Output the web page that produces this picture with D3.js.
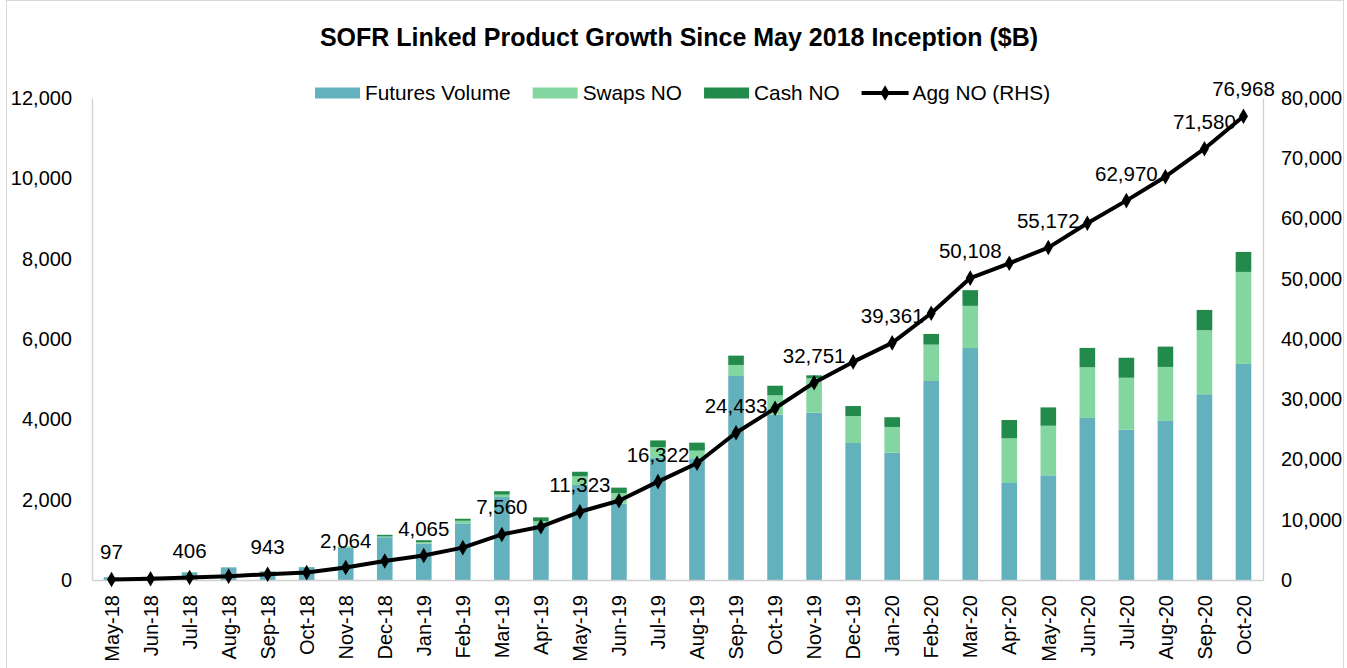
<!DOCTYPE html>
<html>
<head>
<meta charset="utf-8">
<script src="https://cdn.jsdelivr.net/npm/d3@7"></script>
<style>
  body { margin: 0; background: #fff; }
  svg text { font-family: Arial, "Liberation Sans", sans-serif; fill: #000; }
</style>
</head>
<body>
<div id="chart"></div>
<script>
// Chart data
const months = ["May-18","Jun-18","Jul-18","Aug-18","Sep-18","Oct-18","Nov-18","Dec-18","Jan-19","Feb-19",
  "Mar-19","Apr-19","May-19","Jun-19","Jul-19","Aug-19","Sep-19","Oct-19","Nov-19","Dec-19",
  "Jan-20","Feb-20","Mar-20","Apr-20","May-20","Jun-20","Jul-20","Aug-20","Sep-20","Oct-20"];
const futuresVolume = [70,80,190,315,215,320,800,1065,905,1410,2065,1375,2365,1900,3050,3030,5080,4115,4165,3410,
  3170,4955,5775,2415,2605,4035,3740,3960,4625,5380];
const swapsNO = [0,0,10,5,10,5,20,20,35,65,60,85,215,265,260,190,274,483,856,672,640,905,1050,1113,1235,1262,1295,1345,1593,2290];
const cashNO = [0,0,0,0,0,0,10,40,50,50,85,100,115,135,165,200,232,239,75,249,242,266,391,455,457,481,498,506,506,498];
const aggNO = [97,200,406,640,943,1230,2064,3150,4065,5370,7560,8850,11323,13150,16322,19370,24433,28500,32751,36200,
  39361,44270,50108,52570,55172,59210,62970,66940,71580,76968];
const leftTicks = [0,2000,4000,6000,8000,10000,12000];
const rightTicks = [0,10000,20000,30000,40000,50000,60000,70000,80000];

const seriesNames = ["Futures Volume","Swaps NO","Cash NO"];
const colors = ["#63B1BD","#84D6A0","#228B4B"];

const W = 1347, H = 668;
const margin = { top: 98, right: 84, bottom: 88, left: 92 };
const width = W - margin.left - margin.right;
const height = H - margin.top - margin.bottom;

const svg = d3.select("#chart").append("svg")
  .attr("width", W).attr("height", H);

// outer border
svg.append("rect")
  .attr("x", 6.5).attr("y", 0.5)
  .attr("width", 1337).attr("height", 700)
  .attr("fill", "none").attr("stroke", "#D9D9D9");

svg.append("text")
  .attr("x", 679).attr("y", 46)
  .attr("text-anchor", "middle")
  .style("font-size", "25px").style("font-weight", "bold")
  .text("SOFR Linked Product Growth Since May 2018 Inception ($B)");

const g = svg.append("g")
  .attr("transform", "translate(" + margin.left + "," + margin.top + ")");

const x = d3.scaleBand().domain(months).range([0, width]).paddingInner(0.6).paddingOuter(0.3);
const y = d3.scaleLinear().domain([0, 12000]).range([height, 0]);
const y2 = d3.scaleLinear().domain([0, 80000]).range([height, 0]);

// stacked bars
const table = months.map((m, i) => ({ month: m, "Futures Volume": futuresVolume[i], "Swaps NO": swapsNO[i], "Cash NO": cashNO[i] }));
const stacked = d3.stack().keys(seriesNames)(table);

g.selectAll("g.layer")
  .data(stacked)
  .enter().append("g")
  .attr("class", "layer")
  .attr("fill", (d, i) => colors[i])
  .selectAll("rect")
  .data(d => d)
  .enter().append("rect")
  .attr("x", d => x(d.data.month))
  .attr("y", d => y(d[1]))
  .attr("width", x.bandwidth())
  .attr("height", d => y(d[0]) - y(d[1]));

// axes
const axisColor = "#D0D0D0";
const yAxis = g.append("g").call(d3.axisLeft(y).tickValues(leftTicks).tickSize(0).tickPadding(20).tickFormat(d3.format(",")));
const y2Axis = g.append("g").attr("transform", "translate(" + width + ",0)")
  .call(d3.axisRight(y2).tickValues(rightTicks).tickSize(0).tickPadding(18).tickFormat(d3.format(",")));
const xAxis = g.append("g").attr("transform", "translate(0," + height + ")")
  .call(d3.axisBottom(x).tickSize(0));

[yAxis, y2Axis, xAxis].forEach(a => {
  a.select(".domain").attr("stroke", axisColor).attr("stroke-width", 1.3);
  a.selectAll("text").style("font-size", "20px").style("font-family", "Arial, 'Liberation Sans', sans-serif").attr("fill", "#000");
});

xAxis.selectAll("text")
  .attr("transform", "rotate(-90)")
  .attr("x", -15).attr("y", 0).attr("dy", "0.36em")
  .style("text-anchor", "end");

// Agg NO line
const line = d3.line()
  .x((d, i) => x(months[i]) + x.bandwidth() / 2)
  .y(d => y2(d));

g.append("path")
  .datum(aggNO)
  .attr("fill", "none")
  .attr("stroke", "#000")
  .attr("stroke-width", 4)
  .attr("stroke-linejoin", "round")
  .attr("d", line);

const diamond = d3.symbol().type(d3.symbolDiamond).size(70);
g.selectAll("path.marker")
  .data(aggNO)
  .enter().append("path")
  .attr("class", "marker")
  .attr("d", diamond)
  .attr("fill", "#000")
  .attr("transform", (d, i) => "translate(" + (x(months[i]) + x.bandwidth() / 2) + "," + y2(d) + ")");

// data labels on every other point plus the last one
g.selectAll("text.dlabel")
  .data(aggNO.map((v, i) => ({ v, i })).filter(d => d.i % 2 === 0 || d.i === aggNO.length - 1))
  .enter().append("text")
  .attr("class", "dlabel")
  .attr("x", d => x(months[d.i]) + x.bandwidth() / 2)
  .attr("y", d => y2(d.v) - 20)
  .attr("text-anchor", "middle")
  .style("font-size", "20.5px")
  .text(d => d3.format(",")(d.v));

// legend
const legend = svg.append("g").attr("transform", "translate(315,93)");
let lx = 0;
seriesNames.forEach((name, i) => {
  legend.append("rect").attr("x", lx).attr("y", -5.5).attr("width", 45).attr("height", 11).attr("fill", colors[i]);
  const t = legend.append("text").attr("x", lx + 50).attr("y", 7).style("font-size", "20.8px").text(name);
  lx += 50 + t.node().getComputedTextLength() + 22;
});
legend.append("line").attr("x1", lx).attr("x2", lx + 47).attr("y1", 0).attr("y2", 0)
  .attr("stroke", "#000").attr("stroke-width", 4);
legend.append("path").attr("d", diamond).attr("transform", "translate(" + (lx + 23.5) + ",0)").attr("fill", "#000");
legend.append("text").attr("x", lx + 51).attr("y", 7).style("font-size", "20.8px").text("Agg NO (RHS)");
</script>
</body>
</html>
